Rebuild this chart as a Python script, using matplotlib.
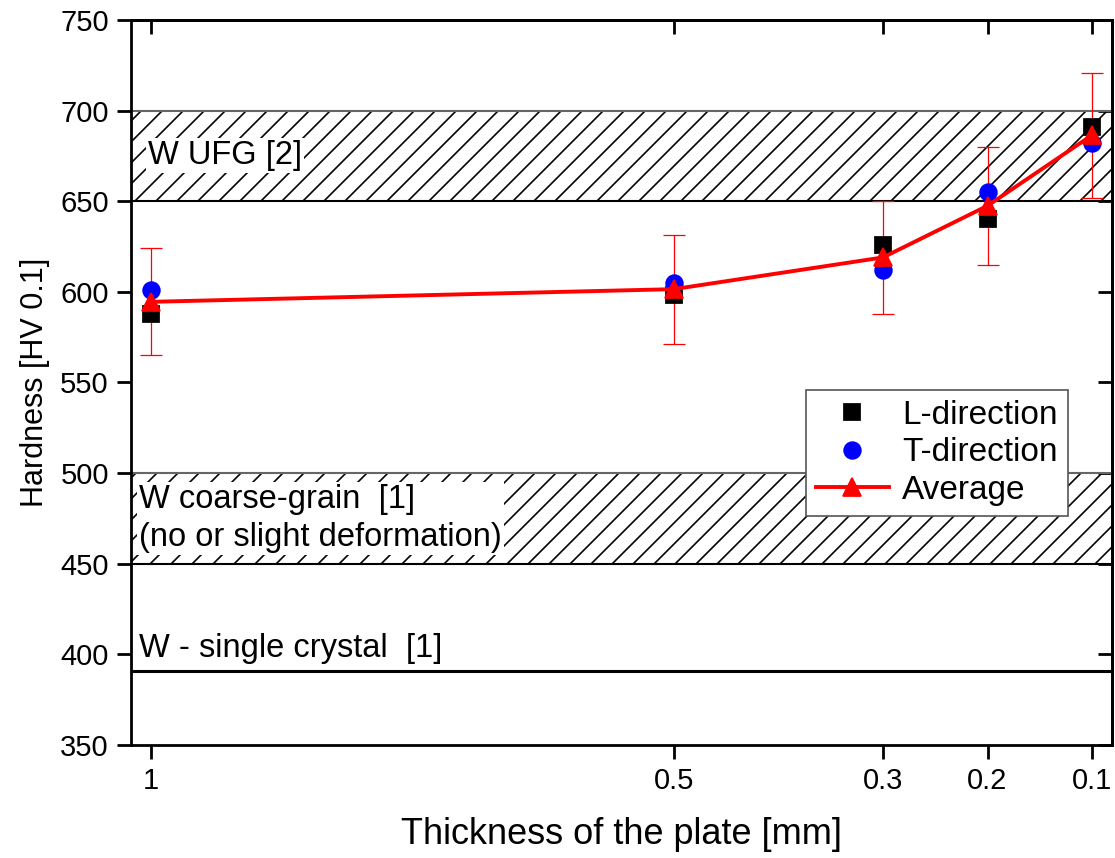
import matplotlib
matplotlib.use("Agg")
import matplotlib.pyplot as plt
import numpy as np

# saved at dpi 126 so the hatch spacing matches the original;
# every size below is written for dpi 100 and scaled by K
DPI = 126
K = 100 / DPI

plt.rcParams['font.family'] = ['Liberation Sans', 'DejaVu Sans']
plt.rcParams['hatch.linewidth'] = 1.2 * K

# plate thickness [mm]
thickness = [1.0, 0.5, 0.3, 0.2, 0.1]
hv_L = [588, 598, 626, 640, 691]
hv_T = [601, 605, 612, 655, 682]
hv_avg = [594.5, 601.5, 619, 647.5, 686.5]
hv_err = [29.5, 30, 31, 32.5, 34.5]

x_ticks = [1, 0.5, 0.3, 0.2, 0.1]
x_ticklabels = ['1', '0.5', '0.3', '0.2', '0.1']
y_ticks = [350, 400, 450, 500, 550, 600, 650, 700, 750]

# reference ranges from literature
ufg_band = (650, 700)
coarse_band = (450, 500)
single_crystal = 391

fig = plt.figure(figsize=(1115 / DPI, 858 / DPI), dpi=DPI)
ax = fig.add_axes([0.1175, 0.1317, 0.8798, 0.845])

# hatched bands
for lo, hi in [ufg_band, coarse_band]:
    ax.axhspan(lo, hi, facecolor='none', edgecolor='black', hatch='//', linewidth=0, zorder=1)
    ax.axhline(hi, color='#666666', lw=1.5 * K, zorder=1.5)
    ax.axhline(lo, color='black', lw=1.5 * K, zorder=1.5)
ax.axhline(single_crystal, color='black', lw=2.2 * K, zorder=1.5)

txt = dict(fontsize=23.5 * K, ha='left', va='center', zorder=2)
wbox = dict(facecolor='white', edgecolor='none', pad=1.5 * K)
ax.text(1.0027, 675, 'W UFG [2]', bbox=wbox, **txt)
ax.text(1.0113, 475, 'W coarse-grain  [1]\n(no or slight deformation)',
        bbox=wbox, linespacing=1.3, **txt)
ax.text(1.0113, 403, 'W - single crystal  [1]', **txt)

ax.errorbar(thickness, hv_avg, yerr=hv_err, fmt='none', ecolor='red',
            elinewidth=0.9 * K, capsize=8 * K, capthick=0.9 * K, zorder=3)
ax.plot(thickness, hv_L, 's', color='black', ms=11 * K, zorder=4, label='L-direction')
ax.plot(thickness, hv_T, 'o', color='blue', ms=12 * K, zorder=4.5, label='T-direction')
ax.plot(thickness, hv_avg, '-^', color='red', lw=2.8 * K, ms=13 * K, zorder=5, label='Average')

ax.set_xlim(1.019, 0.081)
ax.set_ylim(350, 750)
ax.set_xticks(x_ticks)
ax.set_xticklabels(x_ticklabels)
ax.set_yticks(y_ticks)
ax.tick_params(axis='both', direction='out', length=10 * K, width=2 * K,
               labelsize=21 * K, pad=6 * K)

for s in ax.spines.values():
    s.set_linewidth(2 * K)

top = ax.secondary_xaxis('top')
top.set_xticks(x_ticks)
top.tick_params(direction='in', length=10 * K, width=2 * K, labeltop=False)
top.spines['top'].set_linewidth(2 * K)
right = ax.secondary_yaxis('right')
right.set_yticks(y_ticks)
right.tick_params(direction='in', length=10 * K, width=2 * K, labelright=False)
right.spines['right'].set_linewidth(2 * K)

ax.set_xlabel('Thickness of the plate [mm]', fontsize=26 * K, labelpad=16 * K)
ax.set_ylabel('Hardness [HV 0.1]', fontsize=22 * K, labelpad=7 * K)

leg = ax.legend(loc='upper right', bbox_to_anchor=(0.955, 0.49), fontsize=24 * K,
                handlelength=2.2, fancybox=False, framealpha=1, edgecolor='#555555',
                borderpad=0.3, labelspacing=0.2, handletextpad=0.4, borderaxespad=0)
leg.get_frame().set_linewidth(1.2 * K)

fig.savefig('out.png', dpi=DPI)
